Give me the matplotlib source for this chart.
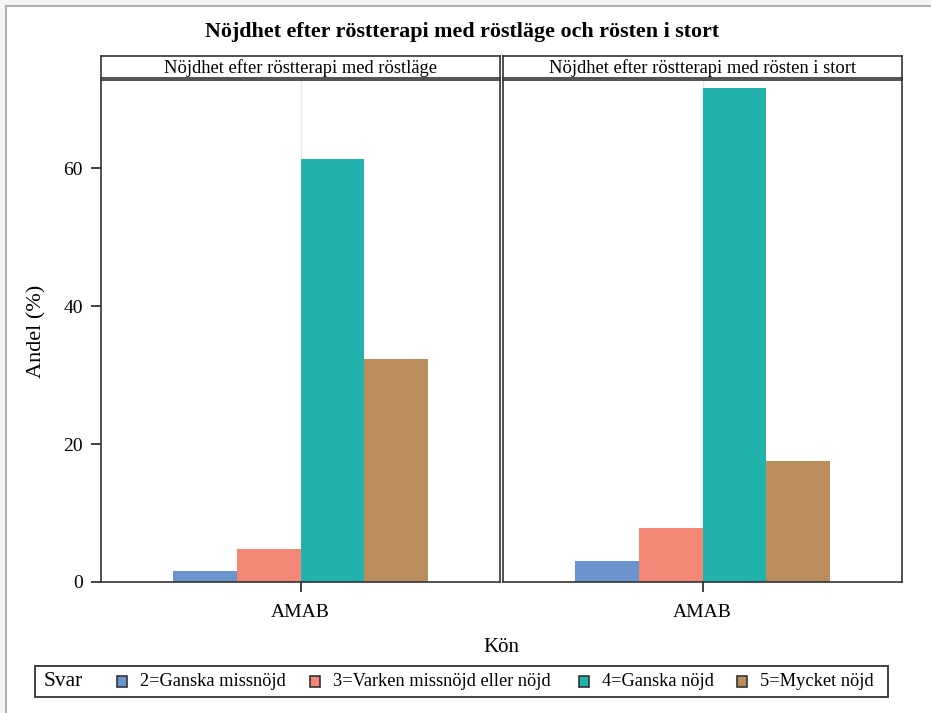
import numpy as np
import matplotlib.pyplot as plt
from matplotlib.patches import Rectangle

plt.rcParams['font.family'] = ['Liberation Serif', 'DejaVu Serif']

# Andel (%) per svarsalternativ, en panel per fråga
panels = ['Nöjdhet efter röstterapi med röstläge',
          'Nöjdhet efter röstterapi med rösten i stort']
group = 'AMAB'
answers = ['2=Ganska missnöjd', '3=Varken missnöjd eller nöjd',
           '4=Ganska nöjd', '5=Mycket nöjd']
pct_rostlage = [1.6, 4.8, 61.3, 32.3]
pct_rosten = [3.0, 7.8, 71.6, 17.6]
colors = ['#6a94cd', '#f48675', '#21b2ae', '#bb8d5d']

W, H = 931, 713
fig = plt.figure(figsize=(W / 100, H / 100), dpi=100)
fig.patch.set_facecolor('white')

def fx(px):
    return px / W

def fy(py):
    return 1 - py / H

# light frame around the graph area
fig.patches.append(Rectangle((0, fy(6)), 1, 1 - fy(6), transform=fig.transFigure,
                             facecolor='#f4f4f4', edgecolor='none', zorder=-5))
fig.patches.append(Rectangle((0, 0), fx(6), 1, transform=fig.transFigure,
                             facecolor='#f4f4f4', edgecolor='none', zorder=-5))
fig.lines.append(plt.Line2D([fx(6), 1], [fy(6), fy(6)], transform=fig.transFigure,
                            color='#b0b0b0', lw=1.5))
fig.lines.append(plt.Line2D([fx(6), fx(6)], [0, fy(6)], transform=fig.transFigure,
                            color='#b0b0b0', lw=1.5))

fig.text(fx(462), fy(32), 'Nöjdhet efter röstterapi med röstläge och rösten i stort',
         ha='center', va='center', fontsize=15.8, fontweight='bold')

edge = '#333333'
width = 0.2
offsets = (np.arange(len(answers)) - 1.5) * width
lefts = [101, 503]
rights = [500, 902]
data = [pct_rostlage, pct_rosten]

for i, (title, vals) in enumerate(zip(panels, data)):
    l, r = lefts[i], rights[i]
    ax = fig.add_axes([fx(l), fy(582), fx(r - l), fy(80) - fy(582)])
    ax.axvline(0, color='#e6e6e6', lw=1, zorder=0)
    ax.bar(offsets, vals, width=width, color=colors, zorder=2)
    ax.set_xlim(-0.625, 0.625)
    ax.set_ylim(0, 72.8)
    ax.set_xticks([0])
    ax.set_xticklabels([group], fontsize=14)
    ax.tick_params(axis='x', length=7, width=1.3, color=edge, pad=9)
    if i == 0:
        ax.set_yticks([0, 20, 40, 60])
        ax.tick_params(axis='y', length=7, width=1.3, color=edge, labelsize=14, pad=6)
        ax.set_ylabel('Andel (%)', fontsize=16, labelpad=12)
    else:
        ax.set_yticks([])
    for s in ax.spines.values():
        s.set_color(edge)
        s.set_linewidth(1.2)

    # panel header
    sx = fig.add_axes([fx(l), fy(78), fx(r - l), fy(56) - fy(78)])
    sx.set_xticks([])
    sx.set_yticks([])
    for s in sx.spines.values():
        s.set_color(edge)
        s.set_linewidth(1.2)
    sx.text(0.5, 0.45, title, ha='center', va='center', fontsize=13.3,
            transform=sx.transAxes)

fig.text(fx(501), fy(648), 'Kön', ha='center', va='center', fontsize=15)

# legend
fig.patches.append(Rectangle((fx(35), fy(697)), fx(888 - 35), fy(666) - fy(697),
                             transform=fig.transFigure, facecolor='white',
                             edgecolor=edge, lw=1.3))
fig.text(fx(44), fy(682), 'Svar', ha='left', va='center', fontsize=15.5)
marker_x = [117, 310, 579, 737]
for mx, lab, c in zip(marker_x, answers, colors):
    fig.patches.append(Rectangle((fx(mx), fy(687)), fx(10), fy(676) - fy(687),
                                 transform=fig.transFigure, facecolor=c,
                                 edgecolor=edge, lw=1.2))
    fig.text(fx(mx + 23), fy(682), lab, ha='left', va='center', fontsize=13.2)

fig.savefig('out.png', dpi=100)
